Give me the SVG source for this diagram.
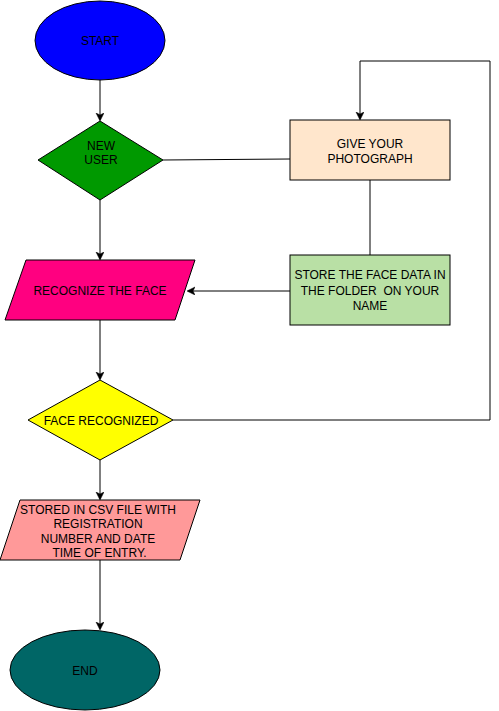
<svg xmlns="http://www.w3.org/2000/svg" width="499" height="711" viewBox="0 0 499 711">
<style>
.s{stroke:#000;stroke-width:1}
.c{fill:none;stroke:#000;stroke-width:1}
text{font-family:"Liberation Sans",Arial,sans-serif;font-size:12px;fill:#000;text-anchor:middle;dominant-baseline:central;white-space:pre}
</style>
<defs>
<marker id="a" markerWidth="10" markerHeight="10" refX="7" refY="4" orient="auto" markerUnits="userSpaceOnUse">
<path d="M0,0 L8,4 L0,8 L2,4 Z" fill="#000" stroke="#000" stroke-width="0.5"/>
</marker>
</defs>
<rect width="499" height="711" fill="#fff"/>
<g id="connectors">
<path class="c" d="M100,80 V120" marker-end="url(#a)"/>
<path class="c" d="M163,160 L290,159"/>
<path class="c" d="M370,180 V255"/>
<path class="c" d="M290,291 H188" marker-end="url(#a)"/>
<path class="c" d="M100,200 V259" marker-end="url(#a)"/>
<path class="c" d="M100,320 V379" marker-end="url(#a)"/>
<path class="c" d="M173,420 H490 V61 H360 V119" marker-end="url(#a)"/>
<path class="c" d="M100,460 V499" marker-end="url(#a)"/>
<path class="c" d="M100,560 V629" marker-end="url(#a)"/>
</g>
<g id="start">
<ellipse class="s" cx="100" cy="40.5" rx="65" ry="39.5" fill="#0000FF"/>
<text x="100" y="41">START</text>
</g>
<g id="newuser">
<polygon class="s" points="100,121 163,160 100,200 38,160" fill="#009900"/>
<text x="101" y="146">NEW</text>
<text x="101" y="160">USER</text>
</g>
<g id="photo">
<rect class="s" x="290" y="120" width="160" height="60" fill="#FFE6CC"/>
<text x="370" y="144">GIVE YOUR</text>
<text x="370" y="159">PHOTOGRAPH</text>
</g>
<g id="store">
<rect class="s" x="290" y="255" width="160" height="70" fill="#B9E0A5"/>
<text x="370" y="275">STORE THE FACE DATA IN</text>
<text x="370" y="290.5" xml:space="preserve">THE FOLDER  ON YOUR</text>
<text x="370" y="306">NAME</text>
</g>
<g id="recognize">
<polygon class="s" points="26,260 195,260 175,320 5,320" fill="#FF0080"/>
<text x="100" y="291">RECOGNIZE THE FACE</text>
</g>
<g id="recognized">
<polygon class="s" points="100,380 173,420 100,460 28,420" fill="#FFFF00"/>
<text x="101" y="421">FACE RECOGNIZED</text>
</g>
<g id="csv">
<polygon class="s" points="20,500 200,500 180,560 0,560" fill="#FF9999"/>
<text x="98" y="510">STORED IN CSV FILE WITH</text>
<text x="98" y="524">REGISTRATION</text>
<text x="98" y="539">NUMBER AND DATE</text>
<text x="98" y="553" xml:space="preserve"> TIME OF ENTRY.</text>
</g>
<g id="end">
<ellipse class="s" cx="85" cy="670" rx="75" ry="40" fill="#006666"/>
<text x="85" y="671">END</text>
</g>
</svg>
